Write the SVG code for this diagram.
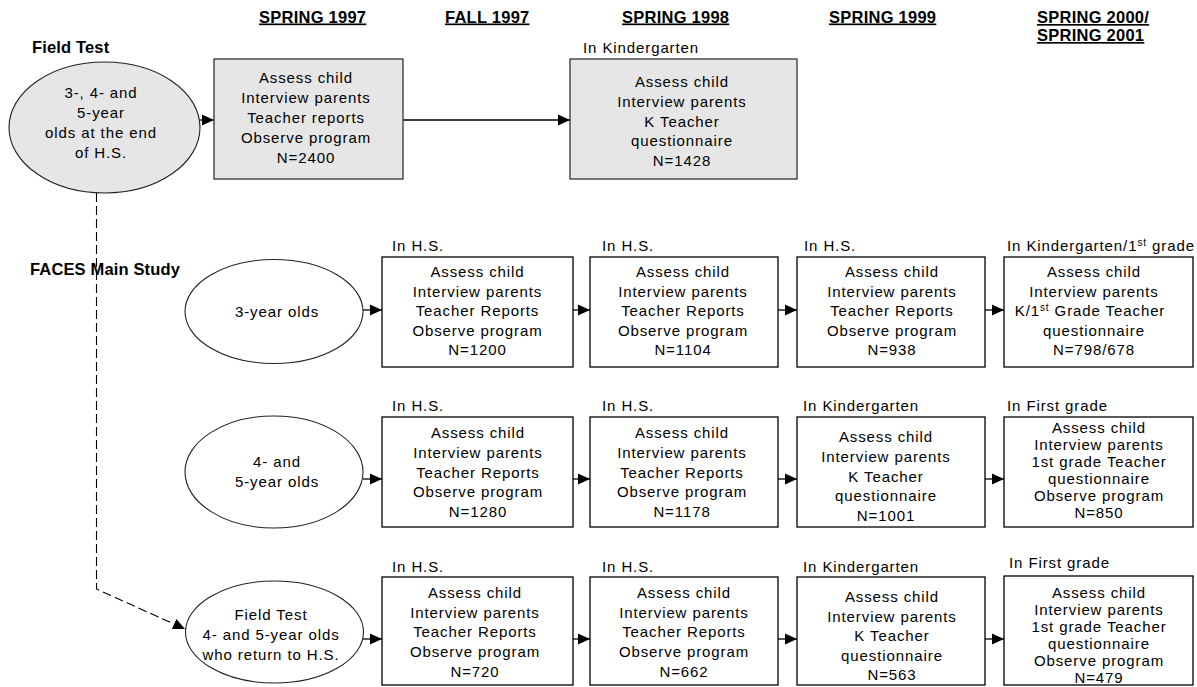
<svg xmlns="http://www.w3.org/2000/svg" width="1197" height="687" viewBox="0 0 1197 687">
<style>
text{font-family:"Liberation Sans",Arial,sans-serif;fill:#000}
.t{font-size:15px;letter-spacing:0.9px;text-anchor:middle}
.l{font-size:15px;letter-spacing:0.9px}
.h{font-size:16.5px;font-weight:bold;letter-spacing:0.25px;text-decoration:underline}
.b{font-size:16.5px;font-weight:bold;letter-spacing:0.15px}
.box{fill:#fff;stroke:#000;stroke-width:1.3}
.gray{fill:#e6e6e6;stroke:#333;stroke-width:1.3}
.ell{fill:#fff;stroke:#222;stroke-width:1.1}
.conn{fill:none;stroke:#000;stroke-width:1.3;marker-end:url(#arr)}
.dash{stroke-width:1.1;stroke-dasharray:9 4}
.sup{font-size:10px}
</style>
<defs>
<marker id="arr" viewBox="0 0 12 12" refX="12" refY="6" markerWidth="12" markerHeight="12" markerUnits="userSpaceOnUse" orient="auto">
<path d="M0,0.5 L12,6 L0,11.5 z" fill="#000"/>
</marker>
</defs>

<g id="headers">
<text class="h" x="259" y="22.5">SPRING 1997</text>
<text class="h" x="445" y="22.5">FALL 1997</text>
<text class="h" x="622" y="22.5">SPRING 1998</text>
<text class="h" x="829" y="22.5">SPRING 1999</text>
<text class="h" x="1037" y="23">SPRING 2000/</text>
<text class="h" x="1037" y="41">SPRING 2001</text>
<text class="b" x="32" y="53">Field Test</text>
<text class="b" x="30" y="275">FACES Main Study</text>
</g>

<g id="connectors">
<path class="conn" d="M197 120 H214"/>
<path class="conn" d="M403 120 H570"/>
<path class="conn dash" d="M96.5 193 V589 L185 629"/>
<path class="conn" d="M363 310 H382"/>
<path class="conn" d="M573 310 H590"/>
<path class="conn" d="M778 310 H797"/>
<path class="conn" d="M985 310 H1004"/>
<path class="conn" d="M363 479 H382"/>
<path class="conn" d="M573 479 H590"/>
<path class="conn" d="M778 479 H797"/>
<path class="conn" d="M985 479 H1004"/>
<path class="conn" d="M363 639 H382"/>
<path class="conn" d="M573 639 H590"/>
<path class="conn" d="M778 639 H797"/>
<path class="conn" d="M985 639 H1004"/>
</g>

<g id="ft-ellipse">
<ellipse class="gray" cx="104.5" cy="127.5" rx="95.5" ry="65.5" style="stroke:#222;stroke-width:1.1"/>
<text class="t" x="101" y="98">3-, 4- and</text>
<text class="t" x="101" y="118">5-year</text>
<text class="t" x="101" y="138">olds at the end</text>
<text class="t" x="101" y="158">of H.S.</text>
</g>

<g id="ft-spring1997">
<rect class="gray" x="214" y="59" width="189" height="120"/>
<text class="t" x="306" y="83">Assess child</text>
<text class="t" x="306" y="103">Interview parents</text>
<text class="t" x="306" y="123">Teacher reports</text>
<text class="t" x="306" y="143">Observe program</text>
<text class="t" x="306" y="163">N=2400</text>
</g>

<g id="ft-spring1998">
<text class="l" x="583" y="53">In Kindergarten</text>
<rect class="gray" x="570" y="59" width="227" height="120"/>
<text class="t" x="682" y="87">Assess child</text>
<text class="t" x="682" y="107">Interview parents</text>
<text class="t" x="682" y="126.5">K Teacher</text>
<text class="t" x="682" y="146">questionnaire</text>
<text class="t" x="682" y="166">N=1428</text>
</g>

<g id="r1-ellipse">
<ellipse class="ell" cx="274" cy="311.5" rx="89" ry="52"/>
<text class="t" x="277" y="317">3-year olds</text>
</g>

<g id="r1c1">
<text class="l" x="392" y="251">In H.S.</text>
<rect class="box" x="382" y="257" width="191" height="110"/>
<text class="t" x="477.5" y="277">Assess child</text>
<text class="t" x="477.5" y="296.5">Interview parents</text>
<text class="t" x="477.5" y="316">Teacher Reports</text>
<text class="t" x="477.5" y="335.5">Observe program</text>
<text class="t" x="477.5" y="355">N=1200</text>
</g>

<g id="r1c2">
<text class="l" x="602" y="251">In H.S.</text>
<rect class="box" x="590" y="257" width="188" height="110"/>
<text class="t" x="683" y="277">Assess child</text>
<text class="t" x="683" y="296.5">Interview parents</text>
<text class="t" x="683" y="316">Teacher Reports</text>
<text class="t" x="683" y="335.5">Observe program</text>
<text class="t" x="683" y="355">N=1104</text>
</g>

<g id="r1c3">
<text class="l" x="804" y="251">In H.S.</text>
<rect class="box" x="797" y="257" width="188" height="110"/>
<text class="t" x="892" y="277">Assess child</text>
<text class="t" x="892" y="296.5">Interview parents</text>
<text class="t" x="892" y="316">Teacher Reports</text>
<text class="t" x="892" y="335.5">Observe program</text>
<text class="t" x="892" y="355">N=938</text>
</g>

<g id="r1c4">
<text class="l" x="1007" y="251">In Kindergarten/1<tspan class="sup" dy="-5">st</tspan><tspan dy="5"> grade</tspan></text>
<rect class="box" x="1004" y="257" width="189" height="110"/>
<text class="t" x="1094" y="277">Assess child</text>
<text class="t" x="1094" y="296.5">Interview parents</text>
<text class="t" x="1090" y="316">K/1<tspan class="sup" dy="-5">st</tspan><tspan dy="5"> Grade Teacher</tspan></text>
<text class="t" x="1094" y="335.5">questionnaire</text>
<text class="t" x="1094" y="355">N=798/678</text>
</g>

<g id="r2-ellipse">
<ellipse class="ell" cx="274" cy="472" rx="89" ry="56"/>
<text class="t" x="277" y="467">4- and</text>
<text class="t" x="277" y="487">5-year olds</text>
</g>

<g id="r2c1">
<text class="l" x="392" y="411">In H.S.</text>
<rect class="box" x="382" y="417" width="191" height="110"/>
<text class="t" x="478" y="438">Assess child</text>
<text class="t" x="478" y="458">Interview parents</text>
<text class="t" x="478" y="477.5">Teacher Reports</text>
<text class="t" x="478" y="497">Observe program</text>
<text class="t" x="478" y="517">N=1280</text>
</g>

<g id="r2c2">
<text class="l" x="602" y="411">In H.S.</text>
<rect class="box" x="590" y="417" width="188" height="110"/>
<text class="t" x="682" y="438">Assess child</text>
<text class="t" x="682" y="458">Interview parents</text>
<text class="t" x="682" y="477.5">Teacher Reports</text>
<text class="t" x="682" y="497">Observe program</text>
<text class="t" x="682" y="517">N=1178</text>
</g>

<g id="r2c3">
<text class="l" x="803" y="411">In Kindergarten</text>
<rect class="box" x="797" y="417" width="188" height="110"/>
<text class="t" x="886" y="442">Assess child</text>
<text class="t" x="886" y="462">Interview parents</text>
<text class="t" x="886" y="482">K Teacher</text>
<text class="t" x="886" y="501">questionnaire</text>
<text class="t" x="886" y="521">N=1001</text>
</g>

<g id="r2c4">
<text class="l" x="1007" y="411">In First grade</text>
<rect class="box" x="1004" y="417" width="189" height="110"/>
<text class="t" x="1099" y="433">Assess child</text>
<text class="t" x="1099" y="450">Interview parents</text>
<text class="t" x="1099" y="467">1st grade Teacher</text>
<text class="t" x="1099" y="484">questionnaire</text>
<text class="t" x="1099" y="501">Observe program</text>
<text class="t" x="1099" y="518">N=850</text>
</g>

<g id="r3-ellipse">
<ellipse class="ell" cx="274.5" cy="632" rx="89" ry="51"/>
<text class="t" x="271" y="620">Field Test</text>
<text class="t" x="271" y="640">4- and 5-year olds</text>
<text class="t" x="271" y="660">who return to H.S.</text>
</g>

<g id="r3c1">
<text class="l" x="392" y="572">In H.S.</text>
<rect class="box" x="382" y="577" width="191" height="108"/>
<text class="t" x="475" y="598">Assess child</text>
<text class="t" x="475" y="618">Interview parents</text>
<text class="t" x="475" y="637">Teacher Reports</text>
<text class="t" x="475" y="657">Observe program</text>
<text class="t" x="475" y="677">N=720</text>
</g>

<g id="r3c2">
<text class="l" x="602" y="572">In H.S.</text>
<rect class="box" x="590" y="577" width="188" height="108"/>
<text class="t" x="684" y="598">Assess child</text>
<text class="t" x="684" y="618">Interview parents</text>
<text class="t" x="684" y="637">Teacher Reports</text>
<text class="t" x="684" y="657">Observe program</text>
<text class="t" x="684" y="677">N=662</text>
</g>

<g id="r3c3">
<text class="l" x="803" y="572">In Kindergarten</text>
<rect class="box" x="797" y="577" width="188" height="108"/>
<text class="t" x="892" y="602">Assess child</text>
<text class="t" x="892" y="621.5">Interview parents</text>
<text class="t" x="892" y="641">K Teacher</text>
<text class="t" x="892" y="660.5">questionnaire</text>
<text class="t" x="892" y="680">N=563</text>
</g>

<g id="r3c4">
<text class="l" x="1009" y="568">In First grade</text>
<rect class="box" x="1004" y="576" width="189" height="109"/>
<text class="t" x="1099" y="598">Assess child</text>
<text class="t" x="1099" y="615">Interview parents</text>
<text class="t" x="1099" y="632">1st grade Teacher</text>
<text class="t" x="1099" y="649">questionnaire</text>
<text class="t" x="1099" y="666">Observe program</text>
<text class="t" x="1099" y="683">N=479</text>
</g>
</svg>
